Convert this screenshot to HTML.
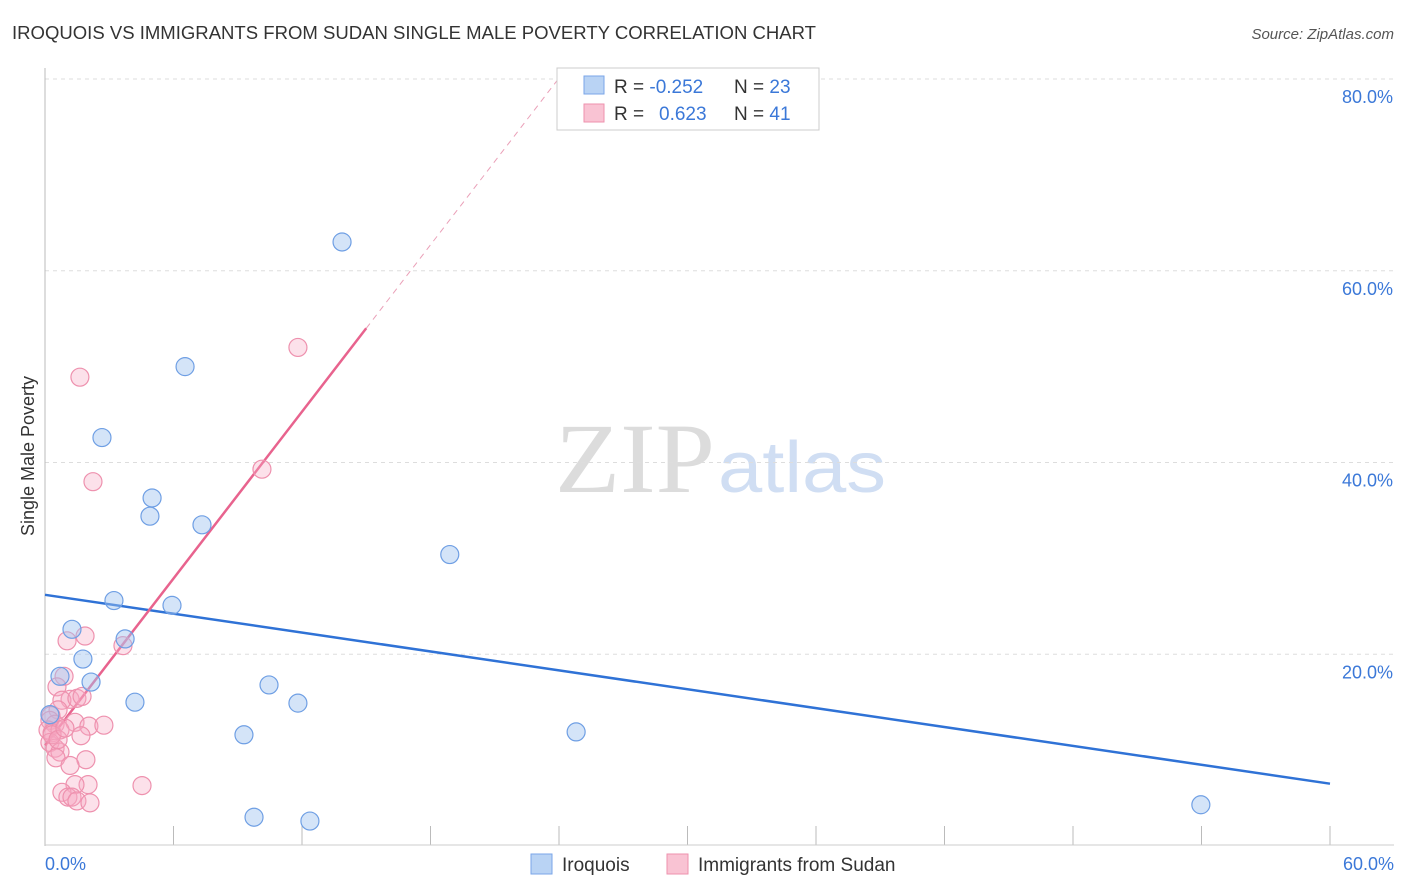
<!DOCTYPE html>
<html><head><meta charset="utf-8"><style>
body{margin:0;background:#fff;font-family:"Liberation Sans",sans-serif}
</style></head><body>
<svg id="c" width="1406" height="892" style="display:block">
<text x="12" y="39" font-size="18" fill="#333" textLength="804" lengthAdjust="spacingAndGlyphs">IROQUOIS VS IMMIGRANTS FROM SUDAN SINGLE MALE POVERTY CORRELATION CHART</text>
<text x="1394" y="39" font-size="15" fill="#555" text-anchor="end" font-style="italic">Source: ZipAtlas.com</text>
<text x="555" y="492" font-size="100" fill="#dcdcdc" textLength="160" lengthAdjust="spacingAndGlyphs" font-family="Liberation Serif">ZIP</text>
<text x="718" y="492" font-size="72" fill="#d0def3" textLength="168" lengthAdjust="spacingAndGlyphs">atlas</text>
<g id="grid"></g>
<line x1="45" y1="68" x2="45" y2="846" stroke="#bbb"/>
<line x1="45" y1="845" x2="1394" y2="845" stroke="#ccc"/>
<text x="34" y="456" font-size="18" fill="#333" text-anchor="middle" transform="rotate(-90 34 456)">Single Male Poverty</text>
<text x="45" y="870" font-size="18" fill="#3b78d8">0.0%</text>
<text x="1394" y="870" font-size="18" fill="#3b78d8" text-anchor="end">60.0%</text>
<g id="lines"></g>
<g id="pts"></g>
<g>
<rect x="557" y="68" width="262" height="62" fill="#fff" stroke="#ccc"/>
<rect x="584" y="76" width="20" height="18" fill="#b9d3f4" stroke="#7aa6e8"/>
<rect x="584" y="104" width="20" height="18" fill="#f9c3d3" stroke="#ee91ae"/>
<text x="614" y="93" font-size="19" fill="#333">R = <tspan fill="#3b78d8">-0.252</tspan><tspan x="734">N = </tspan><tspan fill="#3b78d8">23</tspan></text>
<text x="614" y="120" font-size="19" fill="#333">R = <tspan fill="#3b78d8" x="659">0.623</tspan><tspan x="734">N = </tspan><tspan fill="#3b78d8">41</tspan></text>
</g>
<g>
<rect x="531" y="854" width="21" height="20" fill="#b9d3f4" stroke="#7aa6e8"/>
<text x="562" y="871" font-size="19" fill="#333">Iroquois</text>
<rect x="667" y="854" width="21" height="20" fill="#f9c3d3" stroke="#ee91ae"/>
<text x="698" y="871" font-size="19" fill="#333">Immigrants from Sudan</text>
</g>
</svg>
<script>
const yTicks=[20,40,60,80];
const yTickLabels=["20.0%","40.0%","60.0%","80.0%"];
const xTicks=[0,6,12,18,24,30,36,42,48,54,60];
const iroqX=[13.87,6.54,2.66,5.0,4.9,7.33,18.9,3.22,5.93,1.26,3.74,1.77,0.7,2.15,4.2,10.46,11.81,9.29,24.8,53.97,9.76,12.37,0.23];
const iroqY=[63.0,50.0,42.6,36.3,34.4,33.5,30.4,25.6,25.1,22.6,21.6,19.5,17.7,17.1,15.0,16.8,14.9,11.6,11.9,4.3,3.0,2.6,13.7];
const sudX=[11.81,1.63,10.13,2.24,3.64,1.03,1.87,0.89,0.56,1.17,0.79,1.49,1.73,0.61,0.28,0.23,0.47,1.4,2.05,2.75,1.68,0.14,0.33,0.7,0.23,0.47,0.7,0.51,1.91,1.17,4.53,2.01,1.4,0.79,1.07,1.26,1.49,2.1,0.33,0.61,0.93];
const sudY=[52.0,48.9,39.3,38.0,20.9,21.4,21.9,17.7,16.6,15.3,15.2,15.4,15.6,14.2,13.6,13.1,12.7,12.9,12.5,12.6,11.5,12.1,11.8,12.1,10.8,10.2,9.8,9.2,9.0,8.4,6.3,6.4,6.4,5.6,5.1,5.1,4.7,4.5,11.6,11.1,12.3];
const iroqLine=[26.2,6.5];
const sudLine=[10.5,2.9];
const sx=v=>45+v/60*1285, sy=v=>846-v/20*191.75;
const NS="http://www.w3.org/2000/svg";
function mk(t,a,p){const e=document.createElementNS(NS,t);for(const k in a)e.setAttribute(k,a[k]);p.appendChild(e);return e;}
const g=document.getElementById('grid');
yTicks.forEach((v,i)=>{
 const l=mk('line',{x1:45,x2:1394,y1:sy(v),y2:sy(v),stroke:'#ddd','stroke-dasharray':'4,4'},g);
 
 
 const t=mk('text',{x:1393,y:sy(v)+24,'font-size':18,fill:'#3b78d8','text-anchor':'end'},g);
 t.textContent=yTickLabels[i];
 
 
});
xTicks.forEach(v=>{
 const l=mk('line',{x1:sx(v),x2:sx(v),y1:826,y2:845,stroke:'#bbb'},g);
 
 
});
const L=document.getElementById('lines');
let l1=mk('line',{x1:sx(0),y1:sy(iroqLine[0]),x2:sx(60),y2:sy(iroqLine[1]),stroke:'#2f72d6','stroke-width':2.5},L);


const xe=15, xd=(80-sudLine[0])/sudLine[1];
let l2=mk('line',{x1:sx(0),y1:sy(sudLine[0]),x2:sx(xe),y2:sy(sudLine[0]+sudLine[1]*xe),stroke:'#e8638e','stroke-width':2.5},L);


let l3=mk('line',{x1:sx(xe),y1:sy(sudLine[0]+sudLine[1]*xe),x2:sx(xd),y2:sy(80),stroke:'#eaa0b8','stroke-width':1,'stroke-dasharray':'6,5'},L);


const P=document.getElementById('pts');
sudX.forEach((x,i)=>{
 const c=mk('circle',{cx:sx(x),cy:sy(sudY[i]),r:9,fill:'rgba(246,170,195,0.35)',stroke:'#ee91ae','stroke-width':1.2},P);
 
 
});
iroqX.forEach((x,i)=>{
 const c=mk('circle',{cx:sx(x),cy:sy(iroqY[i]),r:9,fill:'rgba(160,195,240,0.45)',stroke:'#6f9fe4','stroke-width':1.2},P);
 
 
});
</script>
</body></html>
